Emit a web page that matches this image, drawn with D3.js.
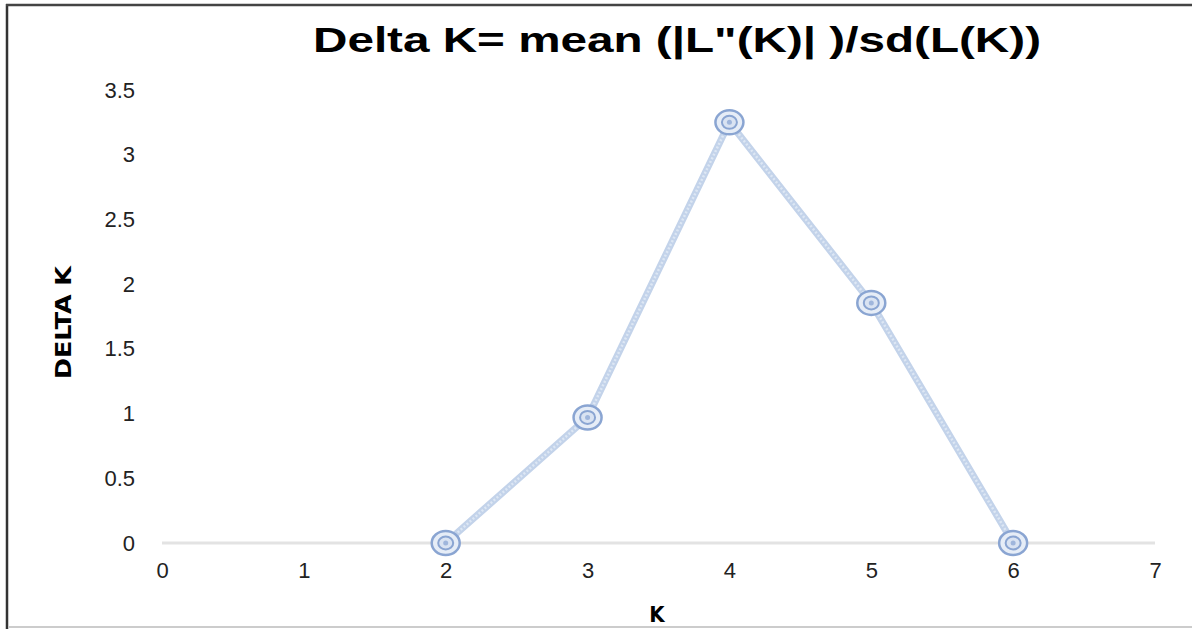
<!DOCTYPE html>
<html>
<head>
<meta charset="utf-8">
<script src="https://cdn.jsdelivr.net/npm/d3@7"></script>
<style>
  body { margin: 0; background: #fff; }
  svg { display: block; font-family: "Liberation Sans", Arial, sans-serif; }
</style>
</head>
<body>
<div id="chart"></div>
<script>
'use strict'

// Data.
const kValues = [2, 3, 4, 5, 6];
const deltaK = [0, 0.97, 3.25, 1.855, 0];
const xTicks = [0, 1, 2, 3, 4, 5, 6, 7];
const yTicks = [0, 0.5, 1, 1.5, 2, 2.5, 3, 3.5];

const width = 1192,
    height = 629,
    margin = {top: 90, right: 37, bottom: 86, left: 162};

const svg = d3.select('#chart')
    .append('svg')
        .attr('width', width)
        .attr('height', height);

// Frame lines.
svg.append('line')
    .attr('x1', 7).attr('x2', 7).attr('y1', 4).attr('y2', height)
    .attr('stroke', '#333').attr('stroke-width', 2.5);
svg.append('line')
    .attr('x1', 6).attr('x2', width).attr('y1', 5).attr('y2', 5)
    .attr('stroke', '#444').attr('stroke-width', 2.5);
svg.append('line')
    .attr('x1', 8).attr('x2', width).attr('y1', 627).attr('y2', 627)
    .attr('stroke', '#ccc').attr('stroke-width', 2);

// Scales.
let x = d3.scaleLinear()
    .domain([0, 7])
    .range([margin.left, width - margin.right]);

let y = d3.scaleLinear()
    .domain([0, 3.5])
    .range([height - margin.bottom, margin.top]);

// Zero line.
svg.append('line')
    .attr('x1', x(0)).attr('x2', x(7))
    .attr('y1', y(0)).attr('y2', y(0))
    .attr('stroke', '#e3e3e3').attr('stroke-width', 3);

// Axes (labels only).
svg.append('g')
    .attr('transform', `translate(0, ${y(0) + 16})`)
    .call(d3.axisBottom(x).tickValues(xTicks).tickSize(0).tickFormat(d3.format('d')))
    .call(g => g.select('.domain').remove())
    .call(g => g.selectAll('text')
        .attr('font-size', 22)
        .attr('font-family', '"Liberation Sans", Arial, sans-serif')
        .attr('fill', '#222'));

svg.append('g')
    .attr('transform', `translate(${margin.left - 24}, 0)`)
    .call(d3.axisLeft(y).tickValues(yTicks).tickSize(0).tickFormat(d => d))
    .call(g => g.select('.domain').remove())
    .call(g => g.selectAll('text')
        .attr('font-size', 22)
        .attr('font-family', '"Liberation Sans", Arial, sans-serif')
        .attr('fill', '#222'));

// Titles.
svg.append('text')
    .attr('x', 313).attr('y', 52)
    .attr('textLength', 728)
    .attr('lengthAdjust', 'spacingAndGlyphs')
    .attr('font-size', 35)
    .attr('font-weight', 'bold')
    .attr('fill', '#000')
    .text('Delta K= mean (|L"(K)| )/sd(L(K))');

svg.append('text')
    .attr('x', 657).attr('y', 622)
    .attr('text-anchor', 'middle')
    .attr('font-size', 22)
    .attr('font-weight', 'bold')
    .attr('font-family', '"DejaVu Sans Condensed", "DejaVu Sans", sans-serif')
    .text('K');

svg.append('text')
    .attr('transform', `translate(71, 379) rotate(-90)`)
    .attr('textLength', 113)
    .attr('lengthAdjust', 'spacingAndGlyphs')
    .attr('font-size', 22)
    .attr('font-weight', 'bold')
    .attr('font-family', '"DejaVu Sans Condensed", "DejaVu Sans", sans-serif')
    .text('DELTA K');

// Line.
const points = kValues.map((k, i) => ({k: k, v: deltaK[i]}));
const line = d3.line().x(d => x(d.k)).y(d => y(d.v));

svg.append('path')
    .datum(points)
    .attr('fill', 'none')
    .attr('stroke', '#c3d3ea')
    .attr('stroke-width', 7)
    .attr('d', line);
svg.append('path')
    .datum(points)
    .attr('fill', 'none')
    .attr('stroke', '#dde7f4')
    .attr('stroke-width', 2.5)
    .attr('stroke-dasharray', '2 2')
    .attr('d', line);

// Markers.
const marks = svg.append('g').selectAll('g')
    .data(points)
    .join('g')
        .attr('transform', d => `translate(${x(d.k)}, ${y(d.v)})`);

marks.append('ellipse')
    .attr('rx', 14).attr('ry', 12)
    .attr('fill', '#e6edf7')
    .attr('stroke', '#8aa5d2')
    .attr('stroke-width', 2.5);
marks.append('ellipse')
    .attr('rx', 7.5).attr('ry', 6.5)
    .attr('fill', '#d9e3f2')
    .attr('stroke', '#8aa5d2')
    .attr('stroke-width', 2);
marks.append('circle')
    .attr('r', 2.5)
    .attr('fill', '#9fb6dc');
</script>
</body>
</html>
